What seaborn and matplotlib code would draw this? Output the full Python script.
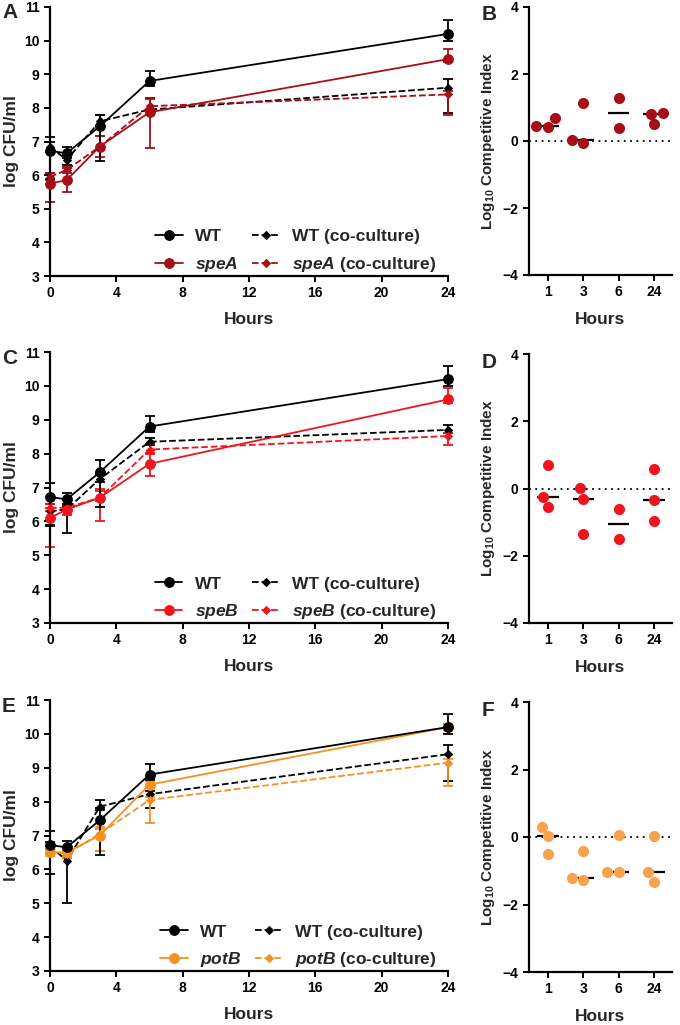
import numpy as np
import pandas as pd
import matplotlib
matplotlib.use("Agg")
import matplotlib.pyplot as plt
import seaborn as sns

sns.set_style("ticks")
plt.rcParams['font.family'] = ['Liberation Sans', 'DejaVu Sans']
plt.rcParams['font.weight'] = 'bold'
plt.rcParams['mathtext.fontset'] = 'custom'
plt.rcParams['mathtext.rm'] = 'Liberation Sans:bold'
plt.rcParams['mathtext.bf'] = 'Liberation Sans:bold'
plt.rcParams['mathtext.it'] = 'Liberation Sans:italic:bold'

hours = [0, 1, 3, 6, 24]
ci_hours = ["1", "3", "6", "24"]

# WT monoculture, same in all three panels (mean, lower err, upper err)
wt_mean = [6.72, 6.65, 7.45, 8.80, 10.20]
wt_lo = [0.85, 0.15, 1.03, 0.15, 0.20]
wt_hi = [0.40, 0.20, 0.35, 0.30, 0.40]

# panel A - speA
a_wtco_mean = [6.85, 6.45, 7.60, 7.95, 8.60]
a_wtco_lo = [0.15, 0.15, 0.15, 0.15, 0.75]
a_wtco_hi = [0.15, 0.15, 0.20, 0.35, 0.27]
a_mut_mean = [5.75, 5.85, 6.85, 7.87, 9.45]
a_mut_lo = [0.55, 0.35, 0.30, 1.05, 0.10]
a_mut_hi = [0.30, 0.35, 0.30, 0.40, 0.30]
a_mutco_mean = [5.95, 6.15, 6.85, 8.05, 8.40]
a_mutco_lo = [0.10, 0.10, 0.10, 0.10, 0.60]
a_mutco_hi = [0.10, 0.10, 0.30, 0.25, 0.10]

# panel C - speB
c_wtco_mean = [6.30, 6.35, 7.25, 8.35, 8.70]
c_wtco_lo = [0.40, 0.70, 0.10, 0.10, 0.10]
c_wtco_hi = [0.20, 0.10, 0.15, 0.10, 0.15]
c_mut_mean = [6.10, 6.35, 6.70, 7.70, 9.60]
c_mut_lo = [0.85, 0.15, 0.70, 0.35, 0.10]
c_mut_hi = [0.30, 0.15, 0.25, 0.30, 0.35]
c_mutco_mean = [6.40, 6.40, 6.70, 8.12, 8.52]
c_mutco_lo = [0.10, 0.10, 0.10, 0.10, 0.27]
c_mutco_hi = [0.10, 0.10, 0.20, 0.15, 0.10]

# panel E - potB
e_wtco_mean = [6.70, 6.25, 7.85, 8.22, 9.40]
e_wtco_lo = [0.10, 1.25, 0.10, 0.40, 0.78]
e_wtco_hi = [0.10, 0.10, 0.20, 0.10, 0.28]
e_mut_mean = [6.50, 6.50, 7.00, 8.50, 10.20]
e_mut_lo = [0.10, 0.10, 0.45, 0.10, 0.10]
e_mut_hi = [0.10, 0.10, 0.20, 0.10, 0.10]
e_mutco_mean = [6.55, 6.45, 7.05, 8.05, 9.15]
e_mutco_lo = [0.10, 0.10, 0.50, 0.67, 0.70]
e_mutco_hi = [0.10, 0.10, 0.20, 0.10, 0.10]

# log10 competitive index per hour
b_ci = [[0.68, 0.45, 0.42], [1.12, 0.02, -0.05], [1.27, 0.38], [0.85, 0.82, 0.50]]
d_ci = [[0.70, -0.25, -0.55], [0.02, -0.30, -1.35], [-0.60, -1.50], [0.57, -0.33, -0.97]]
f_ci = [[0.30, 0.02, -0.50], [-0.42, -1.20, -1.27], [0.05, -1.03, -1.03], [0.03, -1.05, -1.33]]

panels = [
    dict(lt="A", rt="B", gene="speA", col="#A50F15", ptcol="#A50F15",
         wco=(a_wtco_mean, a_wtco_lo, a_wtco_hi), mut=(a_mut_mean, a_mut_lo, a_mut_hi),
         mco=(a_mutco_mean, a_mutco_lo, a_mutco_hi), ci=b_ci),
    dict(lt="C", rt="D", gene="speB", col="#F0141E", ptcol="#F0141E",
         wco=(c_wtco_mean, c_wtco_lo, c_wtco_hi), mut=(c_mut_mean, c_mut_lo, c_mut_hi),
         mco=(c_mutco_mean, c_mutco_lo, c_mutco_hi), ci=d_ci),
    dict(lt="E", rt="F", gene="potB", col="#F7901E", ptcol="#F9A24C",
         wco=(e_wtco_mean, e_wtco_lo, e_wtco_hi), mut=(e_mut_mean, e_mut_lo, e_mut_hi),
         mco=(e_mutco_mean, e_mutco_lo, e_mutco_hi), ci=f_ci),
]

fig = plt.figure(figsize=(6.8, 10.25), dpi=100)
W, H = 680, 1025
left_boxes = [(7, 276), (352, 623), (700, 971)]
right_boxes = [(7, 275), (354, 623), (702, 972)]


def style_axis(ax):
    for s in ['top', 'right']:
        ax.spines[s].set_visible(False)
    for s in ['left', 'bottom']:
        ax.spines[s].set_linewidth(1.6)
        ax.spines[s].set_color('black')
    ax.tick_params(width=1.4, length=4, labelsize=10, colors='black')
    for lab in ax.get_xticklabels() + ax.get_yticklabels():
        lab.set_fontweight('bold')


def series(ax, data, color, ls, marker, ms, label):
    mean, lo, hi = data
    df = pd.DataFrame({"hours": hours, "value": mean})
    ax.errorbar(hours, mean, yerr=[lo, hi], fmt='none', ecolor=color, elinewidth=1.3,
                capsize=3.5, capthick=1.3, clip_on=False, zorder=2)
    sns.lineplot(data=df, x="hours", y="value", ax=ax, color=color, linestyle=ls,
                 linewidth=1.3, marker=marker, markersize=ms, markeredgecolor=color,
                 markerfacecolor=color, label=label, clip_on=False, zorder=3)


for i, p in enumerate(panels):
    top, bot = left_boxes[i]
    ax = fig.add_axes([50 / W, 1 - bot / H, 398 / W, (bot - top) / H])
    gene_tex = f"$\\it{{{p['gene']}}}$"
    series(ax, p['wco'], 'black', '--', 'D', 4.5, "WT (co-culture)")
    series(ax, p['mco'], p['col'], '--', 'D', 4.5, f"{gene_tex} (co-culture)")
    series(ax, p['mut'], p['col'], '-', 'o', 7, gene_tex)
    series(ax, (wt_mean, wt_lo, wt_hi), 'black', '-', 'o', 7, "WT")
    ax.set_xlim(0, 24)
    ax.set_ylim(3, 11)
    ax.set_xticks([0, 4, 8, 12, 16, 20, 24])
    ax.set_yticks(range(3, 12))
    ax.set_xlabel("Hours", fontsize=12.5, fontweight='bold', labelpad=8)
    ax.set_ylabel("log CFU/ml", fontsize=12.5, fontweight='bold', labelpad=4)
    handles, labels = ax.get_legend_handles_labels()
    order = [3, 2, 0, 1]
    ax.legend([handles[k] for k in order], [labels[k] for k in order], ncol=2,
              frameon=False, loc='lower right', bbox_to_anchor=(1.01, -0.05),
              prop={'weight': 'bold', 'size': 12.5}, handlelength=1.6,
              columnspacing=0.8, handletextpad=0.7, labelspacing=0.6)
    style_axis(ax)
    fig.text(2 / W, 1 - (top + 6) / H, p['lt'], fontsize=15, fontweight='bold', va='center')

    # competitive index panel
    top, bot = right_boxes[i]
    bx = fig.add_axes([529 / W, 1 - bot / H, 143 / W, (bot - top) / H])
    ci_df = pd.DataFrame([(h, v) for h, vals in zip(ci_hours, p['ci']) for v in vals],
                         columns=["hour", "ci"])
    bx.axhline(0, color='black', linestyle=(0, (1, 2.5)), linewidth=1.3, zorder=1)
    sns.swarmplot(data=ci_df, x="hour", y="ci", order=ci_hours, ax=bx, color=p['ptcol'],
                  size=8, linewidth=0, zorder=3)
    med = ci_df.groupby("hour", sort=False)["ci"].median().reindex(ci_hours)
    bx.hlines(med.values, np.arange(len(ci_hours)) - 0.3, np.arange(len(ci_hours)) + 0.3,
              color='black', linewidth=1.6, zorder=2)
    bx.set_xlim(-0.54, 3.51)
    bx.set_ylim(-4, 4)
    bx.set_yticks([-4, -2, 0, 2, 4])
    bx.set_xlabel("Hours", fontsize=12.5, fontweight='bold', labelpad=9)
    bx.set_ylabel(r"Log$_{10}$ Competitive Index", fontsize=11, fontweight='bold', labelpad=4)
    style_axis(bx)
    fig.text(482 / W, 1 - (top + 8) / H, p['rt'], fontsize=15, fontweight='bold', va='center')

fig.savefig("out.png", dpi=100)
